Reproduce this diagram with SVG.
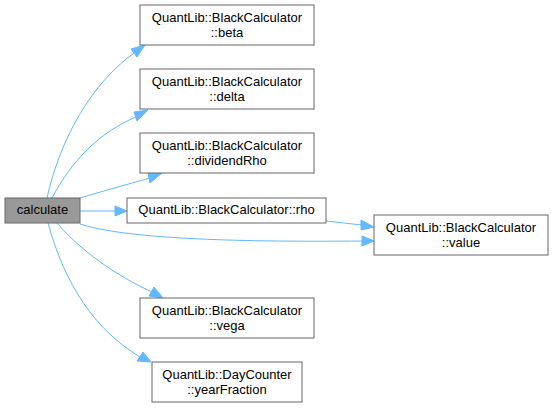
<svg xmlns="http://www.w3.org/2000/svg" width="553" height="408" viewBox="0 0 553 408">
<style>
.n rect{fill:#fff;stroke:#666;stroke-width:1}
.cur rect{fill:#999;stroke:#666}
text{font-family:"Liberation Sans",Arial,sans-serif;font-size:13px;fill:#000;text-anchor:middle}
.e path{fill:none;stroke:#63b8ff;stroke-width:1}
.e polygon{fill:#63b8ff;stroke:#63b8ff}
</style>
<rect width="553" height="408" fill="#fff"/>
<g class="e" id="edges">
<path d="M47,198 C60,140 90,85 134,53"/>
<polygon points="131,49 145,45 137,57"/>
<path d="M52,198 C72,160 100,132 136,117"/>
<polygon points="134,112 148,110 137,121"/>
<path d="M80,198 C100,192 125,185 150,178"/>
<polygon points="148,173 162,173 150,183"/>
<path d="M80,211 L115,211"/>
<polygon points="115,206 127,211 115,216"/>
<path d="M326,221 L362,225"/>
<polygon points="361,220 374,227 361,230"/>
<path d="M80,224 C130,240 250,242 362,241"/>
<polygon points="362,236 374,241 362,246"/>
<path d="M57,223 C80,250 115,275 152,292"/>
<polygon points="149,296 163,298 154,287"/>
<path d="M48,223 C65,285 95,330 140,357"/>
<polygon points="137,361 151,362 143,352"/>
</g>
<g class="n cur" id="node-calculate"><rect x="5" y="198" width="75" height="25"/><text x="42.5" y="213.5">calculate</text></g>
<g class="n" id="node-beta"><rect x="140" y="5" width="174" height="40"/><text x="227" y="21.5">QuantLib::BlackCalculator</text><text x="227" y="36.5">::beta</text></g>
<g class="n" id="node-delta"><rect x="140" y="69" width="174" height="40"/><text x="227" y="85.5">QuantLib::BlackCalculator</text><text x="227" y="100.5">::delta</text></g>
<g class="n" id="node-dividendRho"><rect x="140" y="133" width="174" height="40"/><text x="227" y="149.5">QuantLib::BlackCalculator</text><text x="227" y="164.5">::dividendRho</text></g>
<g class="n" id="node-rho"><rect x="127" y="198" width="199" height="25"/><text x="226.5" y="213.5">QuantLib::BlackCalculator::rho</text></g>
<g class="n" id="node-value"><rect x="374" y="215" width="174" height="40"/><text x="461" y="231.5">QuantLib::BlackCalculator</text><text x="461" y="246.5">::value</text></g>
<g class="n" id="node-vega"><rect x="140" y="298" width="174" height="40"/><text x="227" y="314.5">QuantLib::BlackCalculator</text><text x="227" y="329.5">::vega</text></g>
<g class="n" id="node-yearFraction"><rect x="152" y="362" width="150" height="40"/><text x="227" y="378.5">QuantLib::DayCounter</text><text x="227" y="393.5">::yearFraction</text></g>
</svg>
